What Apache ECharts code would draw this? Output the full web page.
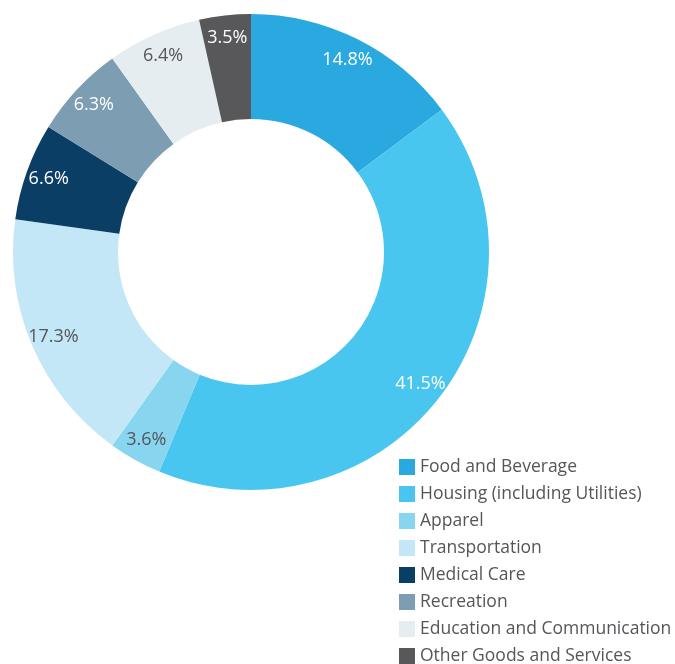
<!DOCTYPE html>
<html>
<head>
<meta charset="utf-8">
<style>
  html, body { margin: 0; padding: 0; background: #ffffff; }
  #chart { width: 675px; height: 664px; }
</style>
<script src="https://cdn.jsdelivr.net/npm/echarts@6/dist/echarts.min.js"></script>
</head>
<body>
<div id="chart"></div>
<script>
// Spending categories and their share of the total (%)
const categories = [
  'Food and Beverage',
  'Housing (including Utilities)',
  'Apparel',
  'Transportation',
  'Medical Care',
  'Recreation',
  'Education and Communication',
  'Other Goods and Services'
];
const shares = [14.8, 41.5, 3.6, 17.3, 6.6, 6.3, 6.4, 3.5];
const sliceColors = ['#29a9e0', '#48c6ef', '#88d5f0', '#c3e7f6', '#0b3e64', '#7d9db2', '#e6edf1', '#58585b'];
const labelColors = ['#ffffff', '#ffffff', '#55565a', '#55565a', '#ffffff', '#ffffff', '#55565a', '#ffffff'];

const FONT = '"Open Sans", "Noto Sans", sans-serif';
const center = [251, 252];

const ringData = categories.map((name, i) => ({
  name,
  value: shares[i],
  itemStyle: { color: sliceColors[i] }
}));

// Transparent outer band carrying the percentage labels near the rim
const labelData = categories.map((name, i) => ({
  name,
  value: shares[i],
  itemStyle: { color: 'rgba(0,0,0,0)' },
  label: { color: labelColors[i] }
}));

const chart = echarts.init(document.getElementById('chart'), null, { renderer: 'canvas' });
chart.setOption({
  animation: false,
  color: sliceColors,
  legend: {
    orient: 'vertical',
    left: 399,
    top: 458,
    height: 400,
    padding: 0,
    itemWidth: 16,
    itemHeight: 16,
    itemGap: 9,
    icon: 'rect',
    selectedMode: false,
    data: categories,
    textStyle: { fontFamily: FONT, fontSize: 17.5, color: '#55565a' }
  },
  series: [
    {
      type: 'pie',
      center,
      radius: [133, 238],
      startAngle: 90,
      clockwise: true,
      silent: true,
      label: { show: false },
      labelLine: { show: false },
      itemStyle: { borderWidth: 0 },
      data: ringData
    },
    {
      type: 'pie',
      center,
      radius: [186, 238],
      startAngle: 90,
      clockwise: true,
      silent: true,
      legendHoverLink: false,
      label: {
        show: true,
        position: 'inside',
        fontFamily: FONT,
        fontSize: 18,
        formatter: p => p.value.toFixed(1) + '%'
      },
      labelLine: { show: false },
      itemStyle: { borderWidth: 0 },
      data: labelData
    }
  ]
});
</script>
</body>
</html>
